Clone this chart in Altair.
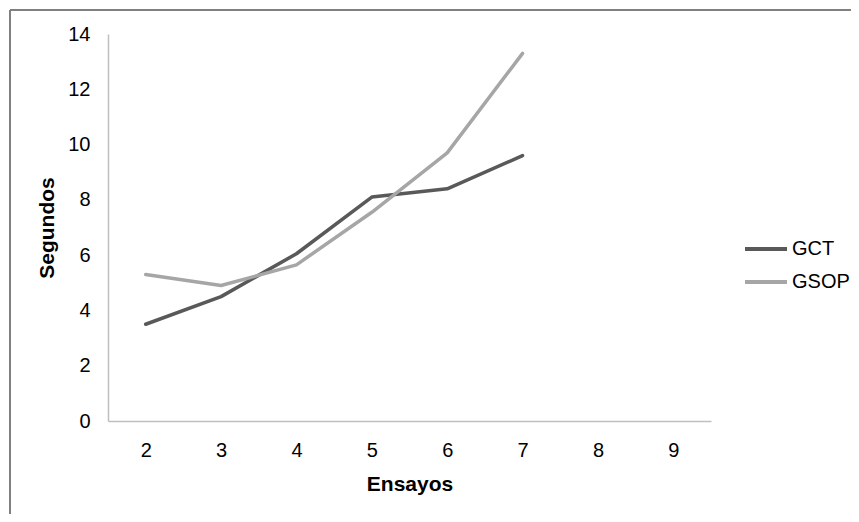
import altair as alt
import pandas as pd

ensayos = ["2", "3", "4", "5", "6", "7", "8", "9"]
ensayos_datos = ["2", "3", "4", "5", "6", "7"]
gct = [3.5, 4.5, 6.05, 8.1, 8.4, 9.6]
gsop = [5.3, 4.9, 5.65, 7.55, 9.7, 13.3]
series = ["GCT", "GSOP"]
colores = ["#595959", "#a6a6a6"]
y_ticks = [0, 2, 4, 6, 8, 10, 12, 14]

rows = []
for name, vals in zip(series, [gct, gsop]):
    for e, v in zip(ensayos_datos, vals):
        rows.append({"Ensayos": e, "Segundos": v, "Serie": name})
df = pd.DataFrame(rows)

FONT = "Liberation Sans"
W, H = 603, 387
PL, PT = 100, 26
PR = 843 - PL - W
PB = 506 - PT - H

lines = alt.Chart(df).mark_line(strokeWidth=3.5, strokeCap="round", strokeJoin="round").encode(
    x=alt.X("Ensayos:O",
            scale=alt.Scale(type="point", domain=ensayos, padding=0.5),
            axis=alt.Axis(title="Ensayos", labelAngle=0, ticks=False, grid=False,
                          domainColor="#bfbfbf", domainWidth=1.5,
                          labelFont=FONT, labelFontSize=20, labelColor="#000",
                          labelPadding=19,
                          titleFont=FONT, titleFontSize=21, titleFontWeight="bold",
                          titleColor="#000", titlePadding=13)),
    y=alt.Y("Segundos:Q",
            scale=alt.Scale(domain=[0, 14], nice=False, zero=True),
            axis=alt.Axis(title="Segundos", values=y_ticks, ticks=False, grid=False,
                          domainColor="#bfbfbf", domainWidth=1.5,
                          labelFont=FONT, labelFontSize=20, labelColor="#000",
                          labelPadding=18,
                          titleFont=FONT, titleFontSize=21, titleFontWeight="bold",
                          titleColor="#000", titlePadding=10)),
    color=alt.Color("Serie:N",
                    scale=alt.Scale(domain=series, range=colores),
                    legend=alt.Legend(title=None, orient="none", legendX=635, legendY=192,
                                      symbolType="stroke", symbolSize=1764,
                                      symbolStrokeWidth=4, labelFont=FONT,
                                      labelFontSize=20, labelColor="#000",
                                      labelOffset=3, rowPadding=0, padding=0)),
)

frame_df = pd.DataFrame([{"k": 1}])
left_border = alt.Chart(frame_df).mark_rule(color="#808080", strokeWidth=2).encode(
    x=alt.value(-PL + 2), y=alt.value(-PT + 2), y2=alt.value(H + PB + 20))
top_border = alt.Chart(frame_df).mark_rule(color="#808080", strokeWidth=2).encode(
    y=alt.value(-PT + 2), x=alt.value(-PL + 2), x2=alt.value(W + PR + 20))

chart = alt.layer(lines, left_border, top_border).properties(
    width=W, height=H,
    background="white",
    autosize=alt.AutoSizeParams(type="none"),
    padding={"left": PL, "top": PT, "right": PR, "bottom": PB},
).configure_view(strokeWidth=0, stroke=None)

chart.save("out.html", embed_options={"renderer": "svg", "actions": False})
